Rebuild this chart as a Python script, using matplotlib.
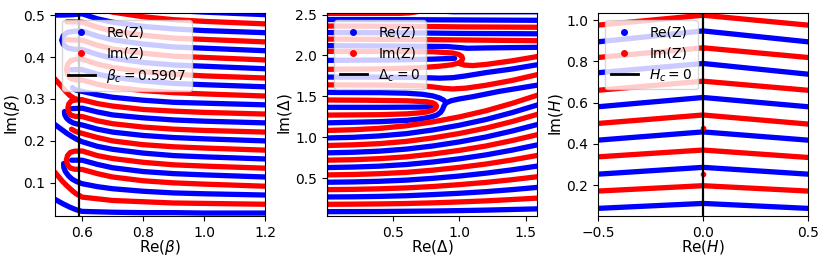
import numpy as np
import matplotlib
matplotlib.use('Agg')
import matplotlib.pyplot as plt
from matplotlib.lines import Line2D

#%% panel 1: zero lines in the complex beta plane
beta_c = 0.5907
beta_x = [0.6, 0.65, 0.7, 0.8, 0.9, 1.0, 1.2]
# y at beta_x for every stripe, bottom to top
beta_blue = [
    [.032, .031, .030, .029, .029, .028, .028],
    [.098, .091, .086, .080, .076, .074, .071],
    [.154, .144, .136, .127, .122, .119, .114],
    [.198, .187, .180, .171, .165, .162, .157],
    [.238, .228, .221, .213, .208, .205, .200],
    [.278, .269, .262, .255, .250, .247, .243],
    [.318, .310, .304, .297, .292, .290, .286],
    [.370, .359, .352, .343, .337, .334, .329],
    [.418, .406, .397, .387, .381, .378, .372],
    [.462, .450, .441, .431, .424, .421, .415],
    [.503, .491, .483, .473, .467, .463, .458],
    [.550, .537, .528, .517, .511, .507, .501],
]
beta_red = [
    [.066, .062, .058, .055, .052, .051, .049],
    [.132, .122, .114, .105, .100, .097, .092],
    [.176, .165, .158, .149, .143, .140, .135],
    [.218, .208, .200, .191, .186, .183, .178],
    [.258, .248, .241, .233, .228, .225, .221],
    [.298, .289, .283, .275, .271, .268, .264],
    [.345, .335, .328, .320, .315, .312, .307],
    [.395, .383, .375, .365, .359, .355, .350],
    [.440, .428, .419, .409, .402, .399, .393],
    [.483, .471, .462, .452, .445, .442, .436],
    [.530, .517, .507, .496, .489, .485, .479],
]
# left ends (x, y) of the stripes, from the far end towards beta_x[0]
beta_blue_left = [
    [(0.505, 0.063), (0.52, 0.057), (0.54, 0.049), (0.56, 0.042), (0.58, 0.036)],
    [(0.539, 0.146), (0.54, 0.136), (0.545, 0.127), (0.555, 0.117), (0.567, 0.109), (0.582, 0.103)],
    [(0.565, 0.154)],
    [(0.505, 0.242), (0.52, 0.234), (0.535, 0.226), (0.55, 0.218), (0.565, 0.211), (0.582, 0.204)],
    [(0.542, 0.27), (0.543, 0.262), (0.549, 0.254), (0.558, 0.248), (0.57, 0.243), (0.585, 0.24)],
    [(0.567, 0.277)],
    [(0.568, 0.327), (0.58, 0.321)],
    [(0.565, 0.37)],
    None,
    None,
    [(0.505, 0.5), (0.54, 0.5), (0.57, 0.501)],
    [(0.58, 0.545)],
]
beta_red_left = [
    [(0.505, 0.13), (0.52, 0.117), (0.535, 0.104), (0.55, 0.093), (0.565, 0.083), (0.58, 0.074)],
    None,
    None,
    [(0.565, 0.228), (0.58, 0.222)],
    None,
    [(0.505, 0.352), (0.515, 0.344), (0.53, 0.332), (0.545, 0.319), (0.56, 0.308), (0.575, 0.301), (0.59, 0.298)],
    None,
    None,
    [(0.55, 0.441)],
    [(0.55, 0.484), (0.57, 0.484)],
    [(0.58, 0.535)],
]
# hairpins: (lower stripe, upper stripe, turning points); a None upper means the
# hairpin runs into the stripe above it and stops there
beta_blue_loops = [
    (8, 9, [(0.575, 0.4185), (0.552, 0.4215), (0.538, 0.43), (0.533, 0.44),
            (0.538, 0.451), (0.552, 0.459), (0.575, 0.4615)]),
]
beta_red_loops = [
    (1, 2, [(0.575, 0.1325), (0.561, 0.1355), (0.552, 0.143), (0.548, 0.154),
            (0.552, 0.165), (0.561, 0.1725), (0.575, 0.1755)]),
    (4, None, [(0.578, 0.2585), (0.564, 0.261), (0.556, 0.268), (0.553, 0.278),
               (0.556, 0.288), (0.564, 0.295), (0.578, 0.2975), (0.6, 0.298)]),
    (6, 7, [(0.578, 0.3455), (0.562, 0.349), (0.552, 0.358), (0.549, 0.37),
            (0.552, 0.382), (0.562, 0.391), (0.578, 0.3945)]),
]

#%% panel 2: complex Delta plane
delta_x = [0.0, 0.2, 0.4, 0.6, 0.8, 1.0, 1.2, 1.4, 1.6]
delta_blue = [
    [.088, .089, .090, .093, .096, .101, .107, .115, .123],
    [.268, .270, .275, .283, .297, .313, .333, .358, .387],
    [.448, .452, .460, .474, .496, .524, .559, .601, .649],
    [.628, .634, .645, .665, .696, .735, .783, .842, .910],
    [.808, .815, .829, .854, .892, .942, 1.002, 1.076, 1.16],
    [.990, .998, 1.015, 1.043, 1.088, 1.146, 1.216, 1.302, 1.40],
]
delta_red = [
    [.178, .180, .183, .188, .196, .207, .220, .237, .255],
    [.358, .361, .368, .379, .396, .419, .446, .480, .518],
    [.538, .543, .553, .569, .596, .630, .671, .722, .780],
    [.718, .724, .737, .759, .794, .838, .892, .959, 1.035],
    [.898, .906, .921, .948, .991, 1.045, 1.111, 1.192, 1.285],
    [1.082, 1.091, 1.108, 1.139, 1.187, 1.248, 1.323, 1.415, 1.52],
]
# curves around the two tongues and the upper rows
delta_blue_curves = [
    [(0, 1.175), (0.4, 1.19), (0.6, 1.205), (0.7, 1.222), (0.78, 1.245), (0.83, 1.27), (0.86, 1.305),
     (0.875, 1.345), (0.885, 1.385), (0.9, 1.42), (0.94, 1.447), (1.0, 1.468), (1.1, 1.495),
     (1.3, 1.56), (1.6, 1.64)],
    [(0, 1.365), (0.4, 1.365), (0.7, 1.368), (0.785, 1.372)],
    [(0, 1.548), (0.4, 1.545), (0.6, 1.538), (0.72, 1.525), (0.8, 1.505), (0.85, 1.48),
     (0.88, 1.455), (0.9, 1.425)],
    [(0, 1.735), (0.4, 1.735), (0.7, 1.73), (0.85, 1.722), (0.95, 1.728), (1.05, 1.75),
     (1.2, 1.79), (1.4, 1.835), (1.6, 1.89)],
    [(0, 1.94), (0.5, 1.945), (0.8, 1.955), (0.965, 1.965)],
    [(0, 2.12), (0.5, 2.115), (0.9, 2.11), (1.0, 2.097), (1.06, 2.088), (1.2, 2.092), (1.6, 2.10)],
    [(0, 2.28), (0.6, 2.277), (1.0, 2.27), (1.6, 2.265)],
    [(0, 2.44), (0.6, 2.438), (1.0, 2.435), (1.6, 2.43)],
    [(0.8, 2.57), (0.85, 2.545), (0.95, 2.535), (1.6, 2.535)],
]
delta_red_curves = [
    [(0, 1.27), (0.4, 1.275), (0.6, 1.285), (0.7, 1.297), (0.76, 1.31), (0.8, 1.33), (0.822, 1.355),
     (0.828, 1.38), (0.818, 1.405), (0.795, 1.422), (0.75, 1.434), (0.6, 1.445), (0.3, 1.452),
     (0, 1.455)],
    [(0, 1.64), (0.4, 1.638), (0.7, 1.63), (0.8, 1.615), (0.88, 1.598), (0.95, 1.59), (1.05, 1.6),
     (1.2, 1.635), (1.4, 1.695), (1.6, 1.77)],
    [(0, 1.83), (0.4, 1.835), (0.7, 1.85), (0.85, 1.868), (0.94, 1.885), (0.99, 1.905), (1.015, 1.93),
     (1.025, 1.96), (1.018, 1.99), (0.995, 2.013), (0.95, 2.03), (0.8, 2.045), (0.4, 2.05), (0, 2.05)],
    [(1.0, 1.9), (1.04, 1.882), (1.1, 1.876), (1.2, 1.89), (1.4, 1.935), (1.6, 1.99)],
    [(0, 2.20), (0.6, 2.196), (1.0, 2.19), (1.6, 2.18)],
    [(0, 2.36), (0.6, 2.357), (1.0, 2.35), (1.6, 2.345)],
    [(0, 2.515), (0.55, 2.515), (0.62, 2.52), (0.68, 2.535), (0.72, 2.56)],
]

#%% panel 3: complex H plane
h_x = [-0.5, 0.0, 0.5]
h_blue = [[.087, .111, .087], [.253, .286, .253], [.418, .458, .418],
          [.580, .625, .580], [.745, .790, .738], [.895, .948, .895]]
h_red = [[.171, .197, .171], [.337, .370, .334], [.499, .540, .496],
         [.660, .704, .660], [.819, .866, .819], [.976, 1.024, .976]]
h_red_dots = [0.253, 0.475, 0.863]

LW = 3.8


def draw(ax, xs, ys, c):
    ax.plot(xs, ys, color=c, lw=LW, solid_capstyle='round', solid_joinstyle='round')


def beta_paths(rows, lefts, loops):
    paths = []
    used = set()
    for lo, hi, turn in loops:
        xs = beta_x[::-1] + [p[0] for p in turn]
        ys = rows[lo][::-1] + [p[1] for p in turn]
        used.add(lo)
        if hi is not None:
            xs = xs + beta_x
            ys = ys + rows[hi]
            used.add(hi)
        paths.append((xs, ys))
    for i, row in enumerate(rows):
        if i in used:
            continue
        left = lefts[i] or []
        xs = [p[0] for p in left] + beta_x
        ys = [p[1] for p in left] + row
        paths.append((xs, ys))
    return paths


plt.rcParams['font.size'] = 10
plt.rcParams['axes.labelsize'] = 11

fig = plt.figure(figsize=(8.3, 2.63), dpi=100)
ax1 = fig.add_axes([0.0663, 0.1787, 0.253, 0.772])
ax2 = fig.add_axes([0.394, 0.1787, 0.253, 0.772])
ax3 = fig.add_axes([0.7205, 0.1787, 0.253, 0.772])

#%% panel 1
for xs, ys in beta_paths(beta_blue, beta_blue_left, beta_blue_loops):
    draw(ax1, xs, ys, 'blue')
for xs, ys in beta_paths(beta_red, beta_red_left, beta_red_loops):
    draw(ax1, xs, ys, 'red')
ax1.axvline(beta_c, color='black', lw=1.6)
ax1.set_xlim(0.511, 1.2)
ax1.set_ylim(0.021, 0.505)
ax1.set_xticks([0.6, 0.8, 1.0, 1.2])
ax1.set_yticks([0.1, 0.2, 0.3, 0.4, 0.5])
ax1.set_xlabel(r'Re($\beta$)', labelpad=-1)
ax1.set_ylabel(r'Im($\beta$)', labelpad=1)

#%% panel 2
for row in delta_blue:
    draw(ax2, delta_x, row, 'blue')
for c in delta_blue_curves:
    draw(ax2, [p[0] for p in c], [p[1] for p in c], 'blue')
for row in delta_red:
    draw(ax2, delta_x, row, 'red')
for c in delta_red_curves:
    draw(ax2, [p[0] for p in c], [p[1] for p in c], 'red')
ax2.axvline(0, color='black', lw=1.6)
ax2.set_xlim(0.003, 1.585)
ax2.set_ylim(0.035, 2.52)
ax2.set_xticks([0.5, 1.0, 1.5])
ax2.set_yticks([0.5, 1.0, 1.5, 2.0, 2.5])
ax2.set_xlabel(r'Re($\Delta$)', labelpad=-1)
ax2.set_ylabel(r'Im($\Delta$)', labelpad=1)

#%% panel 3
for row in h_blue:
    draw(ax3, h_x, row, 'blue')
for row in h_red:
    draw(ax3, h_x, row, 'red')
ax3.plot([0] * len(h_red_dots), h_red_dots, 'o', color='red', ms=3)
ax3.axvline(0, color='black', lw=1.6)
ax3.set_xlim(-0.5, 0.5)
ax3.set_ylim(0.05, 1.035)
ax3.set_xticks([-0.5, 0.0, 0.5])
ax3.set_yticks([0.2, 0.4, 0.6, 0.8, 1.0])
ax3.set_xlabel(r'Re($H$)', labelpad=-1)
ax3.set_ylabel(r'Im($H$)', labelpad=1)

for ax, lab in [(ax1, r'$\beta_c = 0.5907$'), (ax2, r'$\Delta_c = 0$'), (ax3, r'$H_c = 0$')]:
    handles = [Line2D([], [], color='blue', marker='o', ls='none', ms=4, label='Re(Z)'),
               Line2D([], [], color='red', marker='o', ls='none', ms=4, label='Im(Z)'),
               Line2D([], [], color='black', lw=2, label=lab)]
    ax.legend(handles=handles, loc='upper left')

fig.savefig('out.png', dpi=100)
